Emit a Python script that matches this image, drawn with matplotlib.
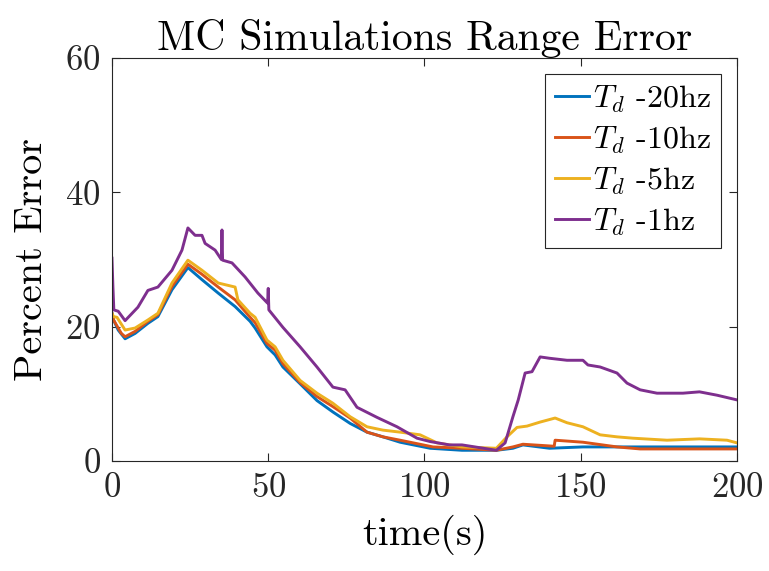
import matplotlib as mpl
mpl.use("Agg")
import matplotlib.pyplot as plt

mpl.rcParams.update({
    "font.family": "serif",
    "font.serif": ["cmr10", "DejaVu Serif"],
    "mathtext.fontset": "cm",
    "axes.formatter.use_mathtext": True,
    "axes.unicode_minus": False,
})

# MATLAB default colours
BLUE = "#0072BD"
RED = "#D95319"
YELLOW = "#EDB120"
PURPLE = "#7E2F8E"

# ---- data ----
t_20 = [0, 0.5, 2, 4.2, 7.4, 11.5, 14.7, 19.2, 24.3, 28.8, 34, 39.4, 44.2, 45.8,
        49.6, 52.2, 54.7, 60.2, 65.6, 70.7, 76.2, 81.6, 86.7, 92.2, 101.8, 112,
        123, 128.3, 131.5, 140, 150.7, 166.7, 200]
e_20 = [22, 21, 19.5, 18.2, 19, 20.5, 21.5, 25.5, 28.8, 27, 25, 23, 20.8, 19.8,
        17, 15.8, 14, 11.5, 9, 7.3, 5.6, 4.3, 3.6, 2.8, 1.9, 1.6,
        1.6, 1.9, 2.4, 1.9, 2.1, 2.1, 2.1]

t_10 = [0, 0.5, 3, 4.2, 7.4, 11.5, 14.7, 19.2, 24.3, 28.8, 34, 39.4, 44.2, 45.8,
        49.6, 52.2, 54.7, 60.2, 65.6, 70.7, 76.2, 81.6, 86.7, 92.2, 102.7, 112,
        123, 128.3, 131.5, 141.5, 141.8, 150.7, 161.6, 169, 200]
e_10 = [22, 21, 19, 18.5, 19.3, 20.8, 21.8, 26, 29.3, 27.8, 25.9, 24, 21.4, 20.6,
        17.5, 16.5, 14.5, 11.7, 9.6, 8.1, 6.4, 4.3, 3.6, 3.1, 2.1, 1.9,
        1.6, 2.1, 2.5, 2.2, 3.1, 2.8, 2.1, 1.8, 1.8]

t_5 = [0, 0.5, 1.6, 4.2, 7.4, 11.5, 14.7, 19.2, 24.3, 28.8, 34, 39.4, 40.3, 44.2,
       45.8, 49.6, 52.2, 54.7, 60.2, 65.6, 70.7, 76.2, 81.6, 86.7, 92.2, 98.6,
       104, 112, 123, 126.4, 129.6, 132.8, 137, 141.8, 145.6, 150.7, 156.2,
       161.6, 166.7, 177.6, 188, 196.8, 200]
e_5 = [22, 21.5, 21.4, 19.5, 19.8, 21, 22, 26.5, 29.9, 28.4, 26.5, 25.9, 24, 22,
       21.4, 18, 17, 15, 12, 10.1, 8.6, 6.6, 5.1, 4.6, 4.3, 3.9,
       2.7, 2.1, 1.9, 3.6, 5.0, 5.2, 5.8, 6.4, 5.7, 5.1, 3.9,
       3.6, 3.4, 3.1, 3.3, 3.1, 2.7]

t_1 = [0, 0.3, 0.6, 2, 4.2, 8.3, 11.5, 14.7, 19.2, 22.4, 24.3, 26.6, 28.8, 29.8,
       33, 35, 35.2, 35.4, 38.4, 42.6, 46.7, 49.8, 50, 50.2, 54.7, 60.2, 65.6,
       70.7, 74.6, 78.4, 84.8, 91.2, 97.6, 101.8, 108, 112, 123, 125.8, 128.3,
       130, 132.2, 134.4, 137, 140, 145.6, 150.7, 152.3, 156.2, 161.6, 164.8,
       169, 174.4, 182.7, 188, 193.6, 200]
e_1 = [30.2, 26, 22.5, 22.3, 20.9, 22.9, 25.4, 25.9, 28.4, 31.4, 34.7, 33.6, 33.6,
       32.4, 31.4, 30.0, 34.4, 29.9, 29.5, 27.4, 25.0, 23.5, 25.7, 22.5, 19.9,
       17.0, 14.0, 11.0, 10.6, 8.0, 6.5, 5.1, 3.4, 2.9, 2.4, 2.4, 1.6, 2.7,
       6.6, 9.1, 13.1, 13.3, 15.5, 15.3, 15.0, 15.0, 14.3, 14.0, 13.1, 11.6,
       10.6, 10.1, 10.1, 10.3, 9.8, 9.1]

series = [
    (t_20, e_20, BLUE, r"$T_d$ -20hz"),
    (t_10, e_10, RED, r"$T_d$ -10hz"),
    (t_5, e_5, YELLOW, r"$T_d$ -5hz"),
    (t_1, e_1, PURPLE, r"$T_d$ -1hz"),
]

fig = plt.figure(figsize=(7.69, 5.71), dpi=100, facecolor="white")
ax = fig.add_axes([0.1456, 0.1926, 0.8128, 0.7058])

for t, e, c, lab in series:
    ax.plot(t, e, color=c, lw=2.1, label=lab)

ax.set_xlim(0, 200)
ax.set_ylim(0, 60)
ax.set_xticks([0, 50, 100, 150, 200])
ax.set_yticks([0, 20, 40, 60])

for s in ax.spines.values():
    s.set_color("#262626")
    s.set_linewidth(0.8)
ax.tick_params(direction="in", length=6, width=0.8, colors="#262626",
               top=True, right=True, labelsize=25, pad=8)

ax.set_title("MC Simulations Range Error", fontsize=30, color="black", pad=6)
ax.set_xlabel("time(s)", fontsize=29, labelpad=8)
ax.set_ylabel("Percent Error", fontsize=29, labelpad=11)

leg = ax.legend(loc="upper right", fontsize=23, handlelength=1.05,
                handletextpad=0.15, borderpad=0.3, labelspacing=0.3,
                fancybox=False, framealpha=1, borderaxespad=0.5)
leg.get_frame().set_edgecolor("#262626")
leg.get_frame().set_linewidth(0.8)

fig.savefig("out.png", dpi=100, facecolor="white")
plt.close()
